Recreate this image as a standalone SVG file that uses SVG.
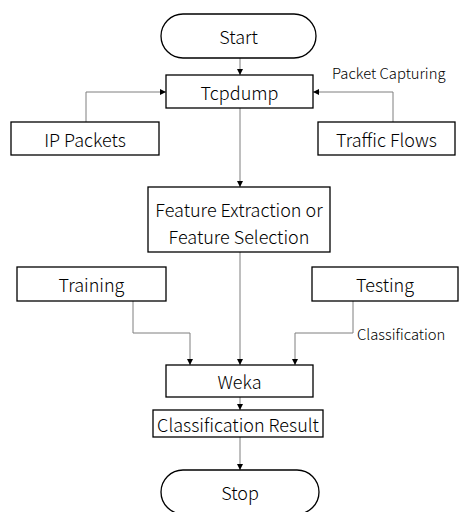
<svg xmlns="http://www.w3.org/2000/svg" width="465" height="512" viewBox="0 0 465 512">
<style>
.box{fill:#fff;stroke:#000;stroke-width:1.3}
.t{font-family:"Noto Sans CJK KR","Noto Sans",sans-serif;font-size:18px;font-weight:300;fill:#000;text-anchor:middle;dominant-baseline:central}
.s{font-family:"Noto Sans CJK KR","Noto Sans",sans-serif;font-size:14.8px;font-weight:300;fill:#000}
.c{fill:none;stroke:#7f7f7f;stroke-width:1;marker-end:url(#a)}
</style>
<defs>
<marker id="a" viewBox="0 0 10 10" refX="10" refY="5" markerWidth="6" markerHeight="6" orient="auto" markerUnits="userSpaceOnUse">
<path d="M0,0 L10,5 L0,10 z" fill="#000"/>
</marker>
</defs>
<rect width="465" height="512" fill="#fff"/>
<g id="connectors">
<path class="c" d="M240,58 V75"/>
<path class="c" d="M86,122 V92 H166"/>
<path class="c" d="M393,122 V92 H313"/>
<path class="c" d="M240,108 V187"/>
<path class="c" d="M240,252 V365"/>
<path class="c" d="M133,301 V333 H190 V365"/>
<path class="c" d="M353,301 V333 H295 V365"/>
<path class="c" d="M240,397 V410"/>
<path class="c" d="M240,437 V470"/>
<text class="s" x="332" y="79">Packet Capturing</text>
<text class="s" x="357" y="340">Classification</text>
</g>
<g id="start"><rect class="box" x="161" y="14" width="155" height="44" rx="22"/><text class="t" x="238.5" y="36">Start</text></g>
<g id="tcpdump"><rect class="box" x="166" y="75" width="147" height="33"/><text class="t" x="239.5" y="91.5">Tcpdump</text></g>
<g id="ip"><rect class="box" x="11" y="122" width="148" height="33"/><text class="t" x="85" y="138.5">IP Packets</text></g>
<g id="traffic"><rect class="box" x="318" y="122" width="137" height="33"/><text class="t" x="386.5" y="138.5">Traffic Flows</text></g>
<g id="feature"><rect class="box" x="148" y="187" width="182" height="65"/><text class="t" x="239" y="209">Feature Extraction or</text><text class="t" x="239" y="236">Feature Selection</text></g>
<g id="training"><rect class="box" x="17" y="267" width="149" height="34"/><text class="t" x="91.5" y="284">Training</text></g>
<g id="testing"><rect class="box" x="312" y="267" width="146" height="34"/><text class="t" x="385" y="284">Testing</text></g>
<g id="weka"><rect class="box" x="166" y="365" width="147" height="32"/><text class="t" x="239.5" y="381">Weka</text></g>
<g id="result"><rect class="box" x="153" y="410" width="170" height="27"/><text class="t" x="238" y="423.5">Classification Result</text></g>
<g id="stop"><rect class="box" x="161" y="470" width="158" height="44" rx="22"/><text class="t" x="240" y="491.5">Stop</text></g>
</svg>
